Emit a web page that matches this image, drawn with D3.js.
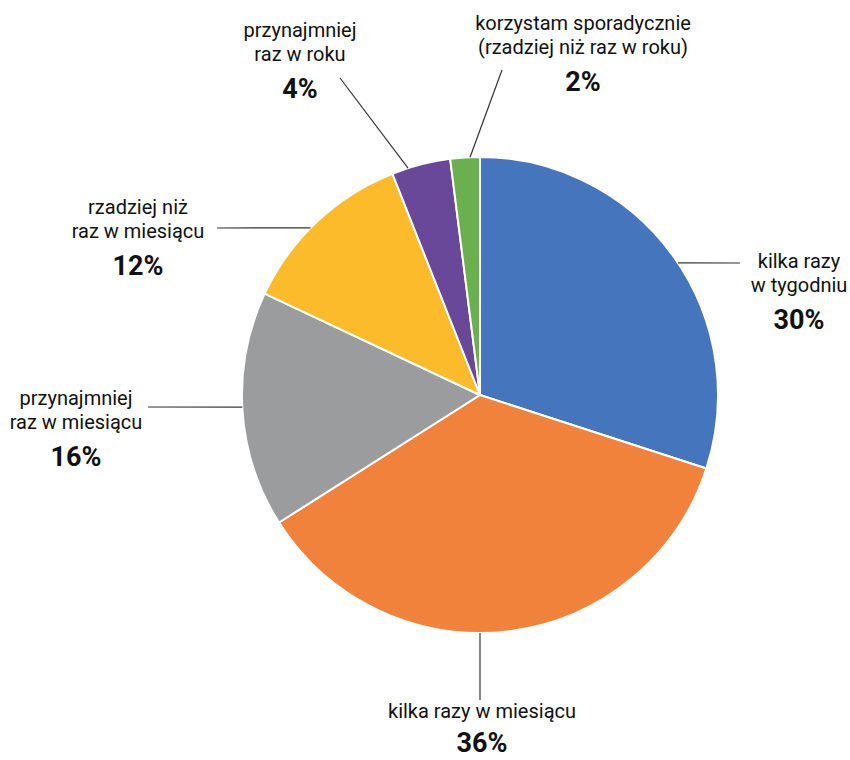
<!DOCTYPE html>
<html>
<head>
<meta charset="utf-8">
<script src="https://cdn.jsdelivr.net/npm/d3@7"></script>
<style>
  body { margin: 0; background: #fff; }
  text { font-family: Roboto, "Noto Sans", sans-serif; fill: #111; }
  .name { font-size: 20px; }
  .pct { font-size: 27px; font-weight: 700; }
</style>
</head>
<body>
<div id="chart"></div>
<script>
(function () {
  'use strict'

  // Data
  var categories = [
    ['kilka razy', 'w tygodniu'],
    ['kilka razy w miesiącu'],
    ['przynajmniej', 'raz w miesiącu'],
    ['rzadziej niż', 'raz w miesiącu'],
    ['przynajmniej', 'raz w roku'],
    ['korzystam sporadycznie', '(rzadziej niż raz w roku)']
  ]
  var values = [30, 36, 16, 12, 4, 2]
  var colors = ['#4575bc', '#f0823b', '#9a9c9e', '#fbbb2b', '#694799', '#6ab04f']

  // Layout
  var w = 850
  var h = 760
  var cx = 480
  var cy = 395
  var radius = 238

  // label anchor (x = text centre, y = first baseline), leader angle on arc, leader outer end
  var labelLayout = [
    { x: 799, y: 268, leaderAngle: 56.3, end: [740, 263] },
    { x: 482, y: 718, leaderAngle: 180, end: [480, 700] },
    { x: 76, y: 405, leaderAngle: 267.1, end: [148, 407] },
    { x: 138, y: 214, leaderAngle: 314.6, end: [217, 228] },
    { x: 300, y: 37, leaderAngle: 342.4, end: [340, 78] },
    { x: 583, y: 30, leaderAngle: 357.6, end: [502, 70] }
  ]
  var lineGap = 24
  var pctGap = 37

  var svg = d3.select('#chart').append('svg')
    .attr('width', w)
    .attr('height', h)

  var pie = d3.pie().sort(null).value(function (d) { return d })
  var arc = d3.arc().innerRadius(0).outerRadius(radius)
  var arcs = pie(values)

  var g = svg.append('g')
    .attr('transform', 'translate(' + cx + ',' + cy + ')')

  g.selectAll('.slice').data(arcs).enter().append('path')
    .attr('class', 'slice')
    .attr('d', arc)
    .attr('fill', function (d, i) { return colors[i] })
    .attr('stroke', '#fff')
    .attr('stroke-width', 2)
    .attr('stroke-linejoin', 'round')

  // Leader lines
  svg.selectAll('.leader').data(labelLayout).enter().append('line')
    .attr('class', 'leader')
    .attr('x1', function (d) { return cx + d3.pointRadial(d.leaderAngle * Math.PI / 180, radius)[0] })
    .attr('y1', function (d) { return cy + d3.pointRadial(d.leaderAngle * Math.PI / 180, radius)[1] })
    .attr('x2', function (d) { return d.end[0] })
    .attr('y2', function (d) { return d.end[1] })
    .attr('stroke', '#333')
    .attr('stroke-width', 1.2)

  // Labels
  var labels = svg.selectAll('.label').data(labelLayout).enter().append('g')
    .attr('class', 'label')
    .attr('transform', function (d) { return 'translate(' + d.x + ',' + d.y + ')' })

  labels.each(function (d, i) {
    var sel = d3.select(this)
    var lines = categories[i]
    lines.forEach(function (t, j) {
      sel.append('text')
        .attr('class', 'name')
        .attr('text-anchor', 'middle')
        .attr('y', j * lineGap)
        .text(t)
    })
    sel.append('text')
      .attr('class', 'pct')
      .attr('text-anchor', 'middle')
      .attr('y', (lines.length - 1) * lineGap + pctGap - (i === 1 ? 3 : 0))
      .text(values[i] + '%')
  })
}())
</script>
</body>
</html>
